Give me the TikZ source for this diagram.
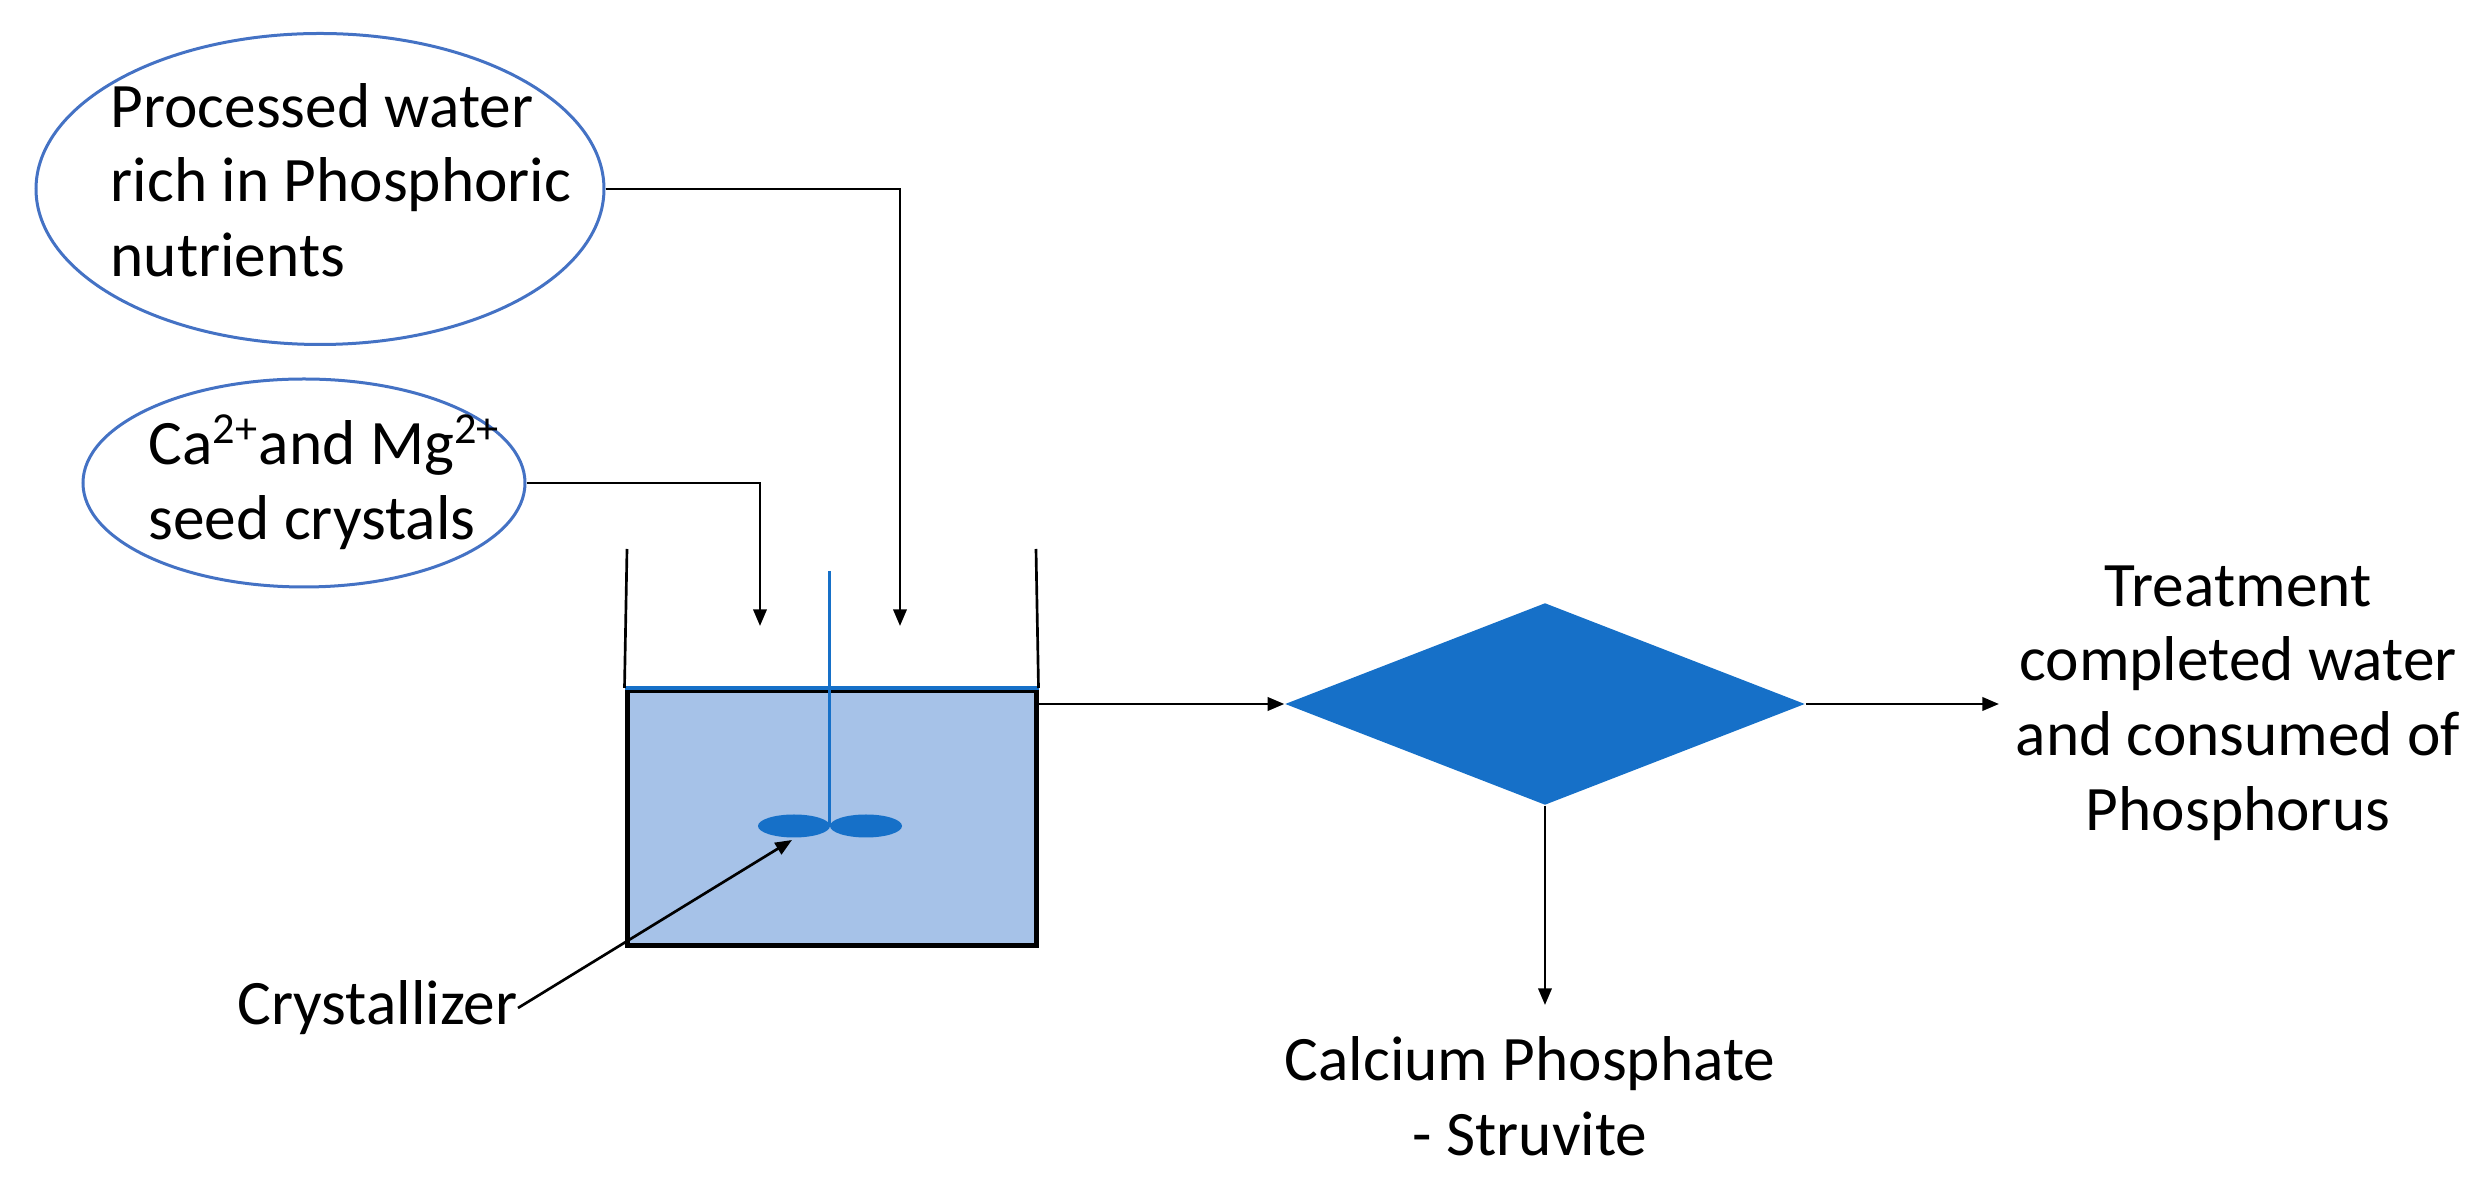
\documentclass[tikz,border=0pt]{standalone}
\usepackage{fontspec}
\setmainfont{Carlito}
\usetikzlibrary{shapes.geometric,arrows.meta}
\definecolor{ebl}{RGB}{68,114,196}
\definecolor{tankfill}{RGB}{166,194,232}
\definecolor{dblue}{RGB}{22,112,200}
\begin{document}
\begin{tikzpicture}[x=0.3pt,y=-0.3pt,
  line/.style={line width=0.8pt},
  arr/.style={line width=0.8pt,-{Triangle[length=5pt,width=4pt]}},
  ell/.style={draw=ebl,line width=0.9pt,ellipse},
  txt/.style={font=\fontsize{19}{22.4}\selectfont,inner sep=0pt}]
\useasboundingbox (0,0) rectangle (2490,1186);
% ellipses
\node[ell,minimum width=568*0.3pt,minimum height=311*0.3pt] (e1) at (320,189) {};
\node[txt,anchor=west,align=left] (t1) at (110,180) {Processed water\\rich in Phosphoric\\nutrients};
\node[ell,minimum width=442*0.3pt,minimum height=208*0.3pt] (e2) at (304,483) {};
\node[txt,anchor=west,align=left] (t2) at (148,482) {Ca\textsuperscript{2+}and Mg\textsuperscript{2+}\\seed crystals};
% tank
\node[draw=black,line width=1.5pt,fill=tankfill,minimum width=409*0.3pt,minimum height=255*0.3pt,inner sep=0pt] (tank) at (831.5,818) {};
\draw[dblue,line width=1.2pt] (tank.north west) -- (tank.north east);
\coordinate (wl) at (627,549); \coordinate (wr) at (1036,549);
\draw[line] (wl) -- (tank.north west);
\draw[line] (wr) -- (tank.north east);
% stirrer
\coordinate (sh) at (829,571);
\fill[dblue] (794,826) ellipse (36 and 11.5);
\fill[dblue] (866,826) ellipse (36 and 11.5);
\coordinate (hub) at (829,826);
\draw[dblue,line width=0.9pt] (sh) -- (hub);
% inlets
\coordinate (in1) at (900,626);
\coordinate (in2) at (760,626);
\draw[arr] (e1.east) -| (in1);
\draw[arr] (e2.east) -| (in2);
% crystallizer label
\node[txt,anchor=east] (cr) at (518,1008) {Crystallizer};
\coordinate (bl) at (792,840);
\draw[arr] (cr.east) -- (bl);
% diamond
\node[diamond,fill=dblue,minimum width=520*0.3pt,minimum height=202*0.3pt,inner sep=0pt,aspect=2.57] (d) at (1545,704) {};
\draw[arr] (tank.east|-0,704) -- (d.west);
\node[txt,align=center] (out) at (2238,703) {Treatment\\completed water\\and consumed of\\Phosphorus};
\draw[arr] (d.east) -- (1999,704);
\coordinate (dn) at (1545,1005);
\draw[arr] (d.south) -- (dn);
\node[txt,align=center,anchor=north] (cp) at (1530,1036) {Calcium Phosphate\\- Struvite};
\end{tikzpicture}
\end{document}
